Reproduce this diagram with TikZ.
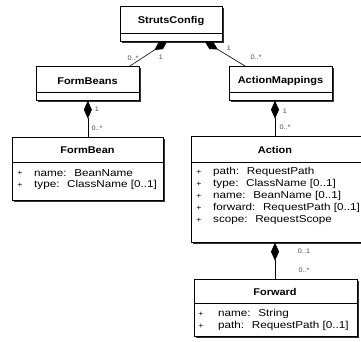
\documentclass[tikz,border=0pt]{standalone}
\usepackage{fontspec}
\setmainfont{Liberation Sans}[FakeStretch=1.17]
\newfontfamily\lblfont{Liberation Sans}[FakeStretch=1.1]
\newfontfamily\ttlfont{Liberation Sans}[FakeStretch=1.12]
\usetikzlibrary{arrows.meta,calc,shadows}
\begin{document}
\begin{tikzpicture}[x=1pt,y=-1pt,
  umlbox/.style={draw, line width=0.7pt, fill=white, inner sep=0pt, anchor=north west,
    copy shadow={shadow xshift=1.3pt, shadow yshift=-1.3pt, fill=black!80, draw=none}},
  ttl/.style={font=\ttlfont\fontsize{9.8}{12}\selectfont\bfseries, inner sep=0pt},
  attr/.style={font=\fontsize{10}{12}\selectfont, inner sep=0pt, anchor=west},
  plus/.style={font=\fontsize{7.5}{8}\selectfont, inner sep=0pt},
  mult/.style={font=\lblfont\fontsize{6.6}{7}\selectfont, text=black!70, inner sep=0pt},
  comp/.style={draw, line width=0.6pt, {Diamond[length=18pt,width=8pt]}-},
  compd/.style={draw, line width=0.6pt, {Diamond[length=15pt,width=8pt]}-},
  sep/.style={line width=0.6pt}
]
\useasboundingbox (0,0) rectangle (361,341);
\clip (0,0) rectangle (361,341);

% boxes
\node[umlbox, minimum width=102pt, minimum height=35pt] (sc) at (120,6) {};
\node[umlbox, minimum width=103pt, minimum height=34pt] (fbs) at (36,66) {};
\node[umlbox, minimum width=103pt, minimum height=34pt] (am) at (229,66) {};
\node[umlbox, minimum width=151pt, minimum height=63pt] (fb) at (12,137) {};
\node[umlbox, minimum width=180pt, minimum height=106pt] (act) at (191,136) {};
\node[umlbox, minimum width=163pt, minimum height=57pt] (fw) at (194,279) {};

% dividers
\draw[sep] ($(sc.south west)+(0,-8)$) -- ($(sc.south east)+(0,-8)$);
\draw[sep] ($(fbs.south west)+(0,-8)$) -- ($(fbs.south east)+(0,-8)$);
\draw[sep] ($(am.south west)+(0,-8)$) -- ($(am.south east)+(0,-8)$);
\draw[sep] ($(fb.north west)+(0,25)$) -- ($(fb.north east)+(0,25)$);
\draw[sep] ($(act.north west)+(0,26)$) -- ($(act.north east)+(0,26)$);
\draw[sep] ($(fw.north west)+(0,24)$) -- ($(fw.north east)+(0,24)$);

% titles
\node[ttl] (tsc) at (171,21) {StrutsConfig};
\node[ttl] (tfbs) at (87.5,81) {FormBeans};
\node[ttl] (tam) at (280.5,81) {ActionMappings};
\node[ttl] (tfb) at (87.5,150) {FormBean};
\node[ttl] (tact) at (275,150) {Action};
\node[ttl] (tfw) at (275,292) {Forward};

% FormBean attributes
\node[plus] (p1) at (20,173) {+};
\node[plus] (p2) at (20,185) {+};
\node[attr] (a1) at (34,173) {name:~ BeanName};
\node[attr] (a2) at (34,185) {type:~ ClassName [0..1]};

% Action attributes
\node[plus] (p3) at (199,172) {+};
\node[plus] (p4) at (199,184) {+};
\node[plus] (p5) at (199,196) {+};
\node[plus] (p6) at (199,208) {+};
\node[plus] (p7) at (199,220) {+};
\node[attr] (b1) at (213,172) {path:~ RequestPath};
\node[attr] (b2) at (213,184) {type:~ ClassName [0..1]};
\node[attr] (b3) at (213,196) {name:~ BeanName [0..1]};
\node[attr] (b4) at (213,208) {forward:~ RequestPath [0..1]};
\node[attr] (b5) at (213,220) {scope:~ RequestScope};

% Forward attributes
\node[plus] (p8) at (201,314) {+};
\node[plus] (p9) at (201,326) {+};
\node[attr] (c1) at (218,314) {name:~ String};
\node[attr] (c2) at (218,326) {path:~ RequestPath [0..1]};

% connector end points
\coordinate (s1) at ($(sc.south west)+(47,0)$);
\coordinate (e1) at ($(fbs.north west)+(94,0)$);
\coordinate (s2) at ($(sc.south west)+(85,0)$);
\coordinate (e2) at ($(am.north west)+(16,0)$);
\coordinate (s4) at (am.south -| tact);
\coordinate (e4) at (act.north -| tact);
\coordinate (s5) at (act.south -| tfw);
\coordinate (e5) at (fw.north -| tfw);

% connectors
\draw[compd] (s1) -- (e1);
\draw[compd] (s2) -- (e2);
\draw[comp] (fbs.south) -- (fb.north);
\draw[comp] (s4) -- (e4);
\draw[comp] (s5) -- (e5);

% multiplicities
\node[mult] (m1a) at (161,57) {1};
\node[mult] (m1b) at (133,58) {0..*};
\node[mult] (m2a) at (229,48) {1};
\node[mult] (m2b) at (256,57) {0..*};
\node[mult] (m3a) at (97,109) {1};
\node[mult] (m3b) at (97,128) {0..*};
\node[mult] (m4a) at (285,111) {1};
\node[mult] (m4b) at (285,127) {0..*};
\node[mult] (m5a) at (304,251) {0..1};
\node[mult] (m5b) at (304,270) {0..*};
\end{tikzpicture}
\end{document}
